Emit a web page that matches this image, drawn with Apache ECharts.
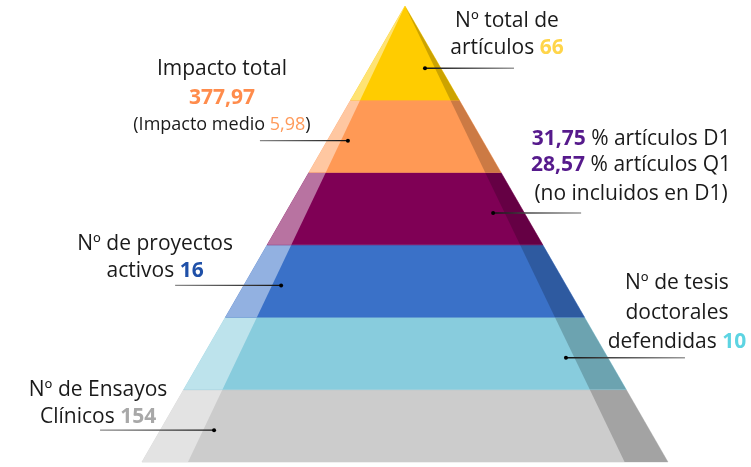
<!DOCTYPE html>
<html lang="es">
<head>
<meta charset="UTF-8">
<title>Pirámide de producción científica</title>
<script src="https://cdn.jsdelivr.net/npm/echarts@6.0.0/dist/echarts.min.js"></script>
<style>
  html, body { margin: 0; padding: 0; background: #fff; }
  #chart { width: 751px; height: 467px; }
</style>
</head>
<body>
<div id="chart"></div>
<script>
// capas de la pirámide, de abajo arriba
var capas = ['Ensayos clínicos', 'Tesis doctorales', 'Proyectos activos', 'Artículos D1 / Q1', 'Impacto', 'Total de artículos'];

var numArticulos = 66;
var impactoTotal = 377.97;
var impactoMedio = 5.98;
var pctD1 = 31.75;
var pctQ1 = 28.57;
var numProyectos = 16;
var numTesis = 10;
var numEnsayos = 154;

function fmt(v) { return v.toFixed(2).replace('.', ','); }

// textos de cada capa (una entrada por línea)
var etiquetas = [
    ['{t|Nº de Ensayos}', '{t|Clínicos }{g|' + numEnsayos + '}'],
    ['{t|Nº de tesis}', '{t|doctorales}', '{t|defendidas }{c|' + numTesis + '}'],
    ['{t|Nº de proyectos}', '{t|activos }{b|' + numProyectos + '}'],
    ['{p|' + fmt(pctD1) + '}{t| % artículos D1}', '{p|' + fmt(pctQ1) + '}{t| % artículos Q1}', '{t|(no incluidos en D1)}'],
    ['{t|Impacto total}', '{o|' + fmt(impactoTotal) + '}', '{s|(Impacto medio }{so|' + fmt(impactoMedio) + '}{s|)}'],
    ['{t|Nº total de}', '{t|artículos }{y|' + numArticulos + '}']
];

// ---- forma y estilo ----
var colores = ['#cccccc', '#88ccdd', '#3a71c8', '#7f0055', '#ff9955', '#ffcc00'];
var limites = [0, 1, 2, 3, 4, 5, 6.3];   // alturas de las capas
var ALTO = 6.3;
var BORDE_IZQ = -0.825, BORDE_DER = 0.835;  // aristas interiores

// posición de los rótulos (dot en unidades de la pirámide, resto en px)
var disposicion = [
    { ux: -0.726, linea: -114, tx: -116, ty: [-40, -13] },
    { ux: 0.612, linea: 119, tx: 111, ty: [-75, -45, -16] },
    { ux: -0.471, linea: -106, tx: -126, ty: [-41, -14] },
    { ux: 0.335, linea: 88, tx: 138, ty: [-74, -48, -19] },
    { ux: -0.217, linea: -88, tx: -126, ty: [-72, -43, -16] },
    { ux: 0.076, linea: 89, tx: 82, ty: [-47, -20] }
];

var fuente = 'Open Sans';
var rich = {
    t: { fontSize: 21, fill: '#1a1a1a', fontFamily: fuente },
    s: { fontSize: 18, fill: '#1a1a1a', fontFamily: fuente },
    so: { fontSize: 18, fill: '#ff9a5a', fontFamily: fuente },
    y: { fontSize: 21, fontWeight: 'bold', fill: '#ffd54a', fontFamily: fuente },
    o: { fontSize: 21, fontWeight: 'bold', fill: '#ff8c4c', fontFamily: fuente },
    p: { fontSize: 21, fontWeight: 'bold', fill: '#561a8c', fontFamily: fuente },
    b: { fontSize: 21, fontWeight: 'bold', fill: '#1f50a8', fontFamily: fuente },
    c: { fontSize: 21, fontWeight: 'bold', fill: '#5dd4e2', fontFamily: fuente },
    g: { fontSize: 21, fontWeight: 'bold', fill: '#a8a8a8', fontFamily: fuente }
};

function renderCapa(params, api) {
    var i = api.value(0);
    var y0 = limites[i], y1 = limites[i + 1];
    var w0 = 1 - y0 / ALTO, w1 = 1 - y1 / ALTO;
    var p = function (x, y) { return api.coord([x, y]); };
    var todo = [p(-w0, y0), p(w0, y0), p(w1, y1), p(-w1, y1)];
    var izq = [p(-w0, y0), p(BORDE_IZQ * w0, y0), p(BORDE_IZQ * w1, y1), p(-w1, y1)];
    var der = [p(BORDE_DER * w0, y0), p(w0, y0), p(w1, y1), p(BORDE_DER * w1, y1)];
    return {
        type: 'group',
        children: [
            { type: 'polygon', shape: { points: todo }, style: { fill: colores[i], stroke: colores[i], lineWidth: 0.6 } },
            { type: 'polygon', shape: { points: izq }, style: { fill: 'rgba(255,255,255,0.45)' } },
            { type: 'polygon', shape: { points: der }, style: { fill: 'rgba(0,0,0,0.2)' } }
        ]
    };
}

function renderEtiqueta(params, api) {
    var i = api.value(0);
    var L = disposicion[i];
    var d = api.coord([L.ux, limites[i] + 0.44]);
    var haciaDer = L.linea > 0;
    var children = [
        {
            type: 'line',
            shape: { x1: d[0], y1: d[1], x2: d[0] + L.linea, y2: d[1] },
            style: {
                lineWidth: 1.3,
                stroke: {
                    type: 'linear', x: 0, y: 0, x2: 1, y2: 0,
                    colorStops: haciaDer
                        ? [{ offset: 0, color: '#111' }, { offset: 1, color: '#9a9a9a' }]
                        : [{ offset: 0, color: '#8a8a8a' }, { offset: 1, color: '#111' }]
                }
            }
        },
        { type: 'circle', shape: { cx: d[0], cy: d[1], r: 2 }, style: { fill: '#000' } }
    ];
    etiquetas[i].forEach(function (txt, k) {
        children.push({
            type: 'text',
            x: d[0] + L.tx,
            y: d[1] + L.ty[k],
            style: {
                text: txt,
                rich: rich,
                align: 'center',
                verticalAlign: 'middle',
                fontFamily: fuente,
                fontSize: 21,
                fill: '#1a1a1a'
            }
        });
    });
    return { type: 'group', children: children };
}

var datos = capas.map(function (c, i) { return { name: c, value: [i] }; });

var myChart = echarts.init(document.getElementById('chart'));
var option = {
    animation: false,
    grid: { left: 142, right: 83, top: 6, bottom: 5 },
    xAxis: { type: 'value', min: -1, max: 1, show: false },
    yAxis: { type: 'value', min: 0, max: ALTO, show: false },
    series: [
        { name: 'pirámide', type: 'custom', renderItem: renderCapa, data: datos, silent: true },
        { name: 'rótulos', type: 'custom', renderItem: renderEtiqueta, data: datos, silent: true, z: 3 }
    ]
};
myChart.setOption(option);
</script>
</body>
</html>
